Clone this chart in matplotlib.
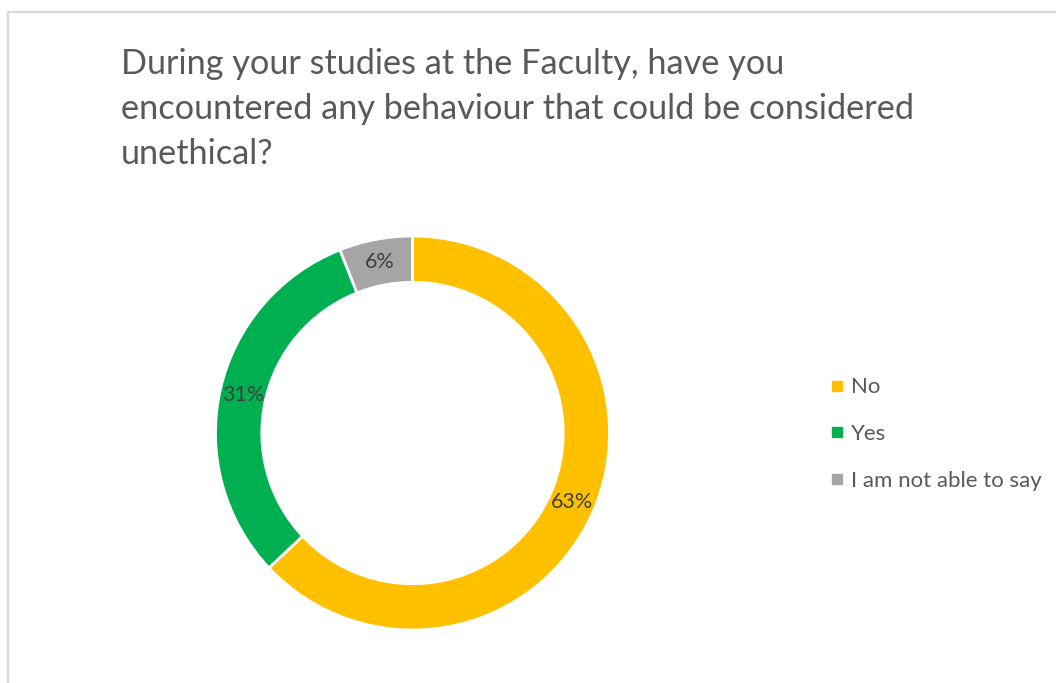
import matplotlib

matplotlib.use("Agg")

import matplotlib.pyplot as plt
from matplotlib.lines import Line2D

W, H = 1056, 683

labels = ["No", "Yes", "I am not able to say"]
shares = [63, 31, 6]
colors = ["#FFC000", "#00B050", "#A5A5A5"]
title = ("During your studies at the Faculty, have you\n"
         "encountered any behaviour that could be considered\n"
         "unethical?")

plt.rcParams["font.family"] = ["Lato", "DejaVu Sans"]

fig = plt.figure(figsize=(W / 100, H / 100), dpi=100)

# light grey frame (top and left edges visible in the source)
fig.add_artist(Line2D([8 / W, 8 / W], [0, 1 - 12 / H], color="#d9d9d9", lw=1.6))
fig.add_artist(Line2D([8 / W, 1], [1 - 12 / H, 1 - 12 / H], color="#d9d9d9", lw=1.6))

fig.text(121 / W, 1 - 48 / H, title, ha="left", va="top", fontsize=24.7,
         color="#595959", linespacing=1.5)

cx, cy, r = 412.5, 433, 197
ax = fig.add_axes([(cx - r) / W, 1 - (cy + r) / H, 2 * r / W, 2 * r / H])
wedges, texts = ax.pie(
    shares, colors=colors, startangle=90, counterclock=False, radius=1,
    wedgeprops=dict(width=0.235, edgecolor="white", linewidth=2),
    labels=[f"{s}%" for s in shares], labeldistance=0.8825,
    textprops=dict(color="#404040", fontsize=15.5),
)
for t in texts:
    t.set_ha("center")
    t.set_va("center")
ax.set_xlim(-1, 1)
ax.set_ylim(-1, 1)
ax.set_aspect("equal")
ax.axis("off")

handles = [Line2D([], [], marker="s", linestyle="", markersize=6.5,
                  markerfacecolor=c, markeredgecolor=c) for c in colors]
fig.legend(handles, labels, loc="center left", bbox_to_anchor=(820 / W, 1 - 434 / H),
           frameon=False, fontsize=16, labelcolor="#595959", handlelength=0.5,
           handletextpad=0.4, labelspacing=1.2, borderpad=0)

fig.savefig("out.png", dpi=100, facecolor="white")
